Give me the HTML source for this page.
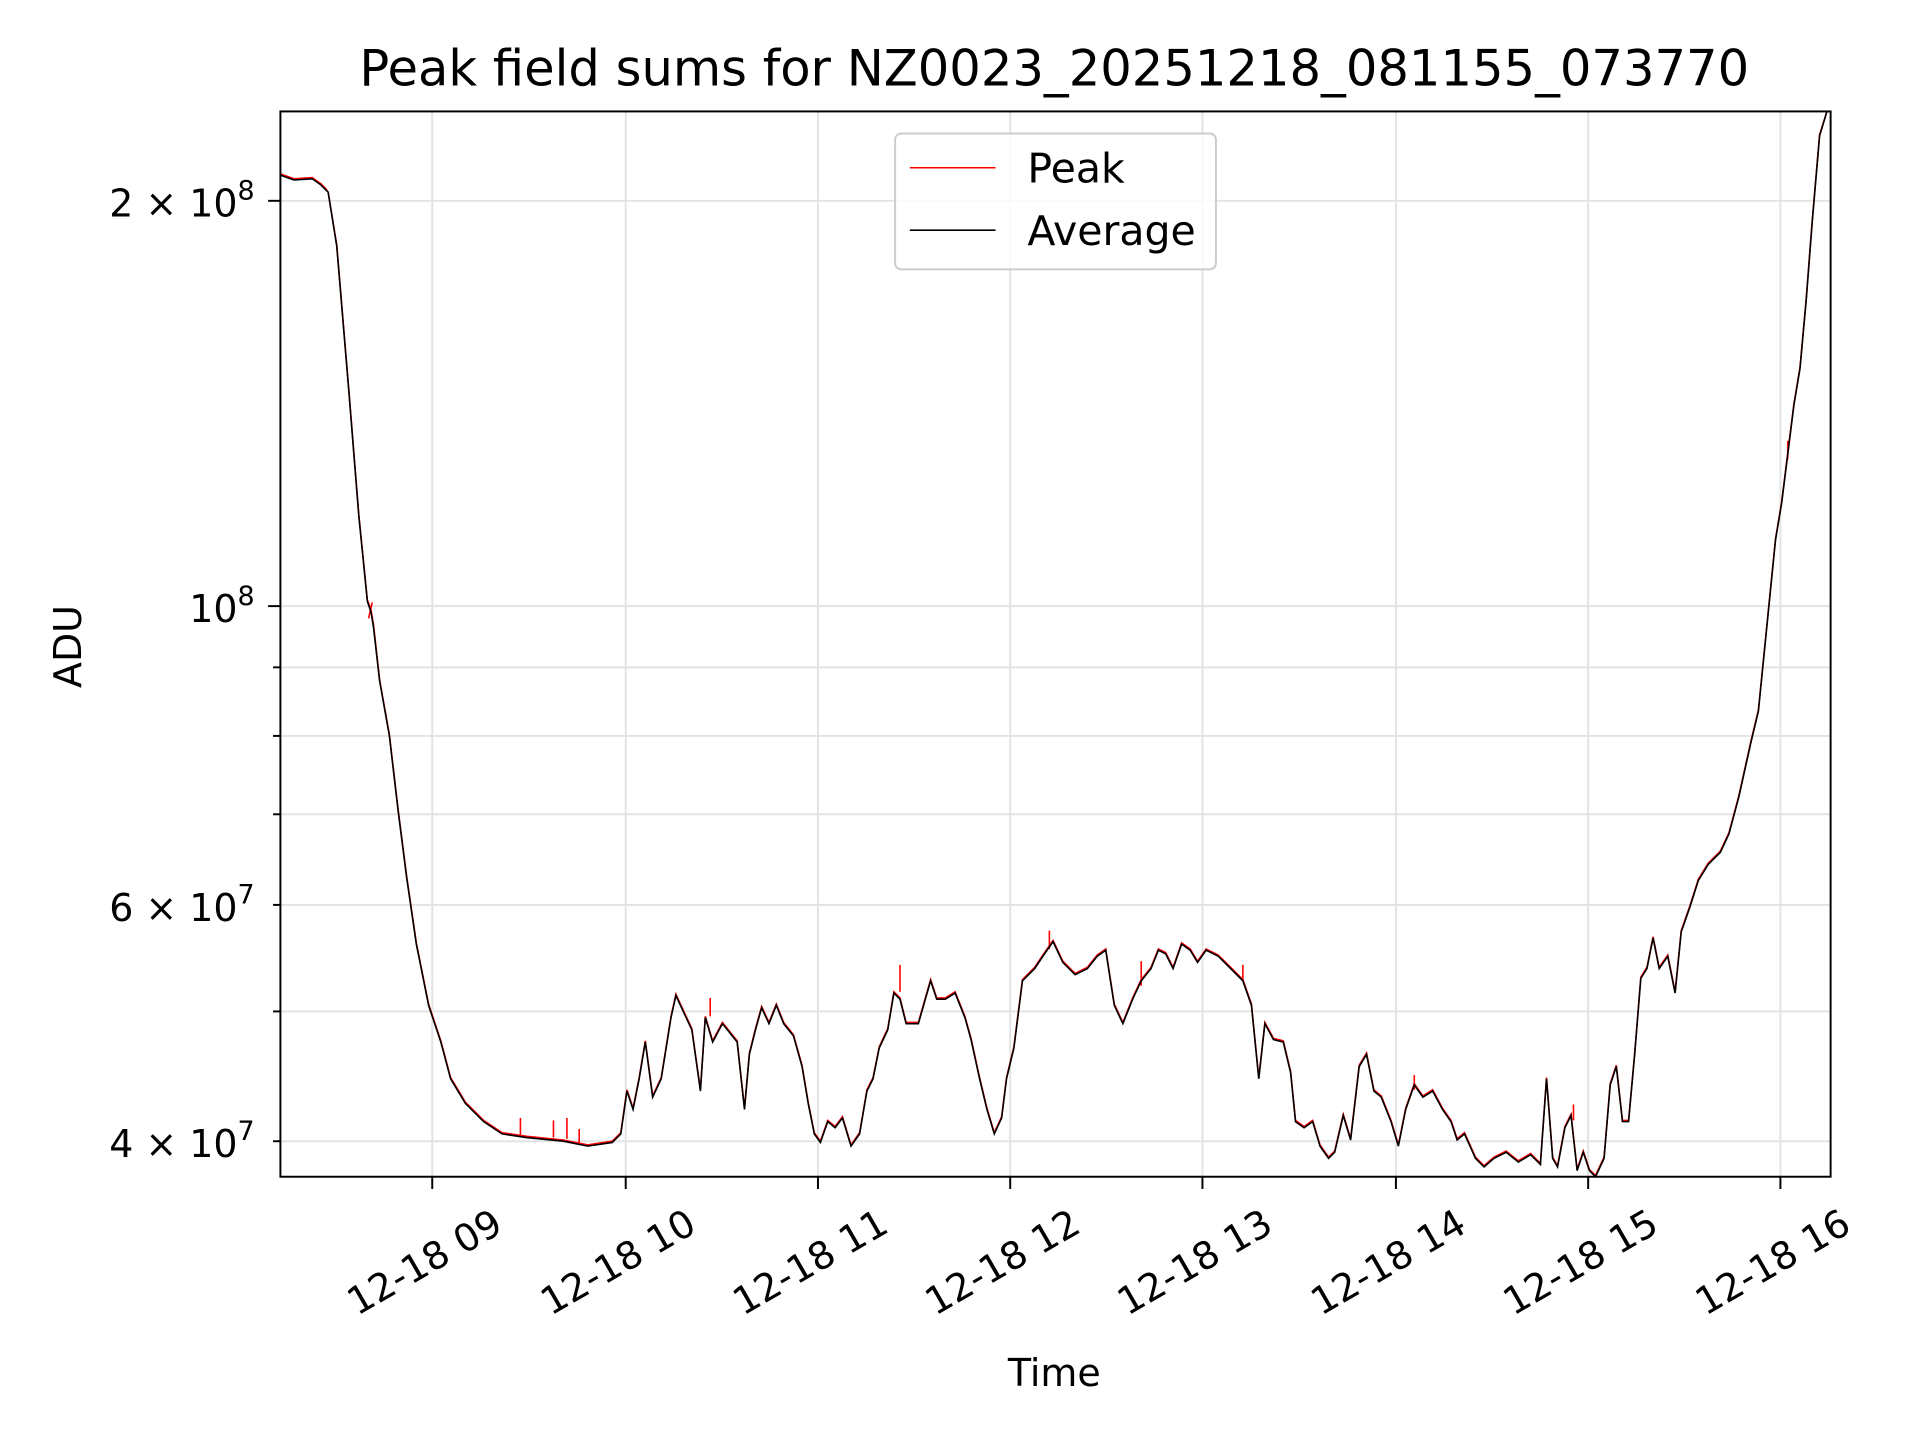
<!DOCTYPE html>
<html><head><meta charset="utf-8"><style>
html,body{margin:0;padding:0;background:#fff;}
svg{display:block;}
text{font-family:"DejaVu Sans","Liberation Sans",sans-serif;fill:#000;}
</style></head><body>
<svg width="1920" height="1440" viewBox="0 0 1568 1176" xmlns="http://www.w3.org/2000/svg">
<rect width="1568" height="1176" fill="#fff"/>
<g stroke="#e3e3e3" stroke-width="1.6">
<line x1="353" y1="91" x2="353" y2="961"/>
<line x1="511" y1="91" x2="511" y2="961"/>
<line x1="668" y1="91" x2="668" y2="961"/>
<line x1="825" y1="91" x2="825" y2="961"/>
<line x1="982" y1="91" x2="982" y2="961"/>
<line x1="1140" y1="91" x2="1140" y2="961"/>
<line x1="1297" y1="91" x2="1297" y2="961"/>
<line x1="1454" y1="91" x2="1454" y2="961"/>
<line x1="229" y1="164" x2="1495" y2="164"/>
<line x1="229" y1="495" x2="1495" y2="495"/>
<line x1="229" y1="545" x2="1495" y2="545"/>
<line x1="229" y1="601" x2="1495" y2="601"/>
<line x1="229" y1="665" x2="1495" y2="665"/>
<line x1="229" y1="739" x2="1495" y2="739"/>
<line x1="229" y1="826" x2="1495" y2="826"/>
<line x1="229" y1="932" x2="1495" y2="932"/>
</g>
<g stroke="#f00" stroke-width="1.3">
<line x1="425" y1="927" x2="425" y2="913"/>
<line x1="452" y1="929" x2="452" y2="915"/>
<line x1="463" y1="930" x2="463" y2="913"/>
<line x1="473" y1="934" x2="473" y2="922"/>
<line x1="580" y1="830" x2="580" y2="815"/>
<line x1="735" y1="810" x2="735" y2="788"/>
<line x1="857" y1="775" x2="857" y2="760"/>
<line x1="932" y1="805" x2="932" y2="785"/>
<line x1="1015" y1="800" x2="1015" y2="788"/>
<line x1="1155" y1="890" x2="1155" y2="878"/>
<line x1="1285" y1="915" x2="1285" y2="902"/>
<line x1="1460" y1="375" x2="1460" y2="360"/>
<line x1="301" y1="505" x2="304" y2="492"/>
</g>
<polyline fill="none" stroke="#f00" stroke-width="1.3" points="229,142 240,146 255,145 262,150 266,154 268,157 275,200 285,320 293,420 300,490 303,498 305,510 310,555 318,600 325,660 332,715 340,770 350,820 360,850 368,880 380,900 395,915 410,925 430,928 460,931 480,935 500,932 507,925 512,890 517,905 522,880 527,850 533,895 540,880 548,830 552,812 558,825 565,840 572,890 576,830 582,850 590,835 598,845 602,850 608,905 612,860 617,840 622,822 628,835 634,820 640,835 648,845 655,870 660,900 665,925 670,932 676,915 682,920 688,912 695,935 702,925 708,890 713,880 718,855 725,840 730,810 735,815 740,835 750,835 760,800 765,815 772,815 780,810 788,830 793,848 800,880 806,905 812,925 818,912 822,880 828,855 835,800 845,790 853,778 860,768 868,785 878,795 888,790 896,780 903,775 910,820 917,835 925,815 932,800 940,790 946,775 952,778 958,790 965,770 972,775 978,785 985,775 995,780 1005,790 1015,800 1022,820 1028,880 1033,835 1040,848 1048,850 1054,875 1058,915 1065,920 1072,915 1078,935 1085,945 1090,940 1097,910 1103,930 1110,870 1116,860 1122,890 1128,895 1136,915 1142,935 1148,905 1155,885 1162,895 1170,890 1178,905 1185,915 1190,930 1196,925 1205,945 1212,952 1220,945 1230,940 1240,948 1250,942 1258,950 1263,880 1268,945 1272,952 1278,920 1283,910 1288,955 1293,940 1298,955 1303,960 1310,945 1315,885 1320,870 1325,915 1330,915 1335,860 1340,798 1345,790 1350,765 1355,790 1362,780 1368,810 1373,760 1380,740 1387,718 1395,705 1405,695 1412,680 1420,650 1430,605 1436,580 1440,540 1445,490 1450,440 1455,410 1460,370 1465,330 1470,300 1475,245 1480,180 1486,110 1492,91"/>
<polyline fill="none" stroke="#000" stroke-width="1.3" points="229,143 240,147 255,146 262,151 266,155 268,157 275,201 285,321 293,421 300,491 303,500 305,512 310,556 318,601 325,661 332,716 340,771 350,821 360,851 368,881 380,901 395,916 410,926 430,929 460,932 480,936 500,933 507,926 512,891 517,906 522,881 527,851 533,896 540,881 548,831 552,813 558,826 565,841 572,891 576,831 582,851 590,836 598,846 602,851 608,906 612,861 617,841 622,823 628,836 634,821 640,836 648,846 655,871 660,901 665,926 670,933 676,916 682,921 688,913 695,936 702,926 708,891 713,881 718,856 725,841 730,811 735,816 740,836 750,836 760,801 765,816 772,816 780,811 788,831 793,849 800,881 806,906 812,926 818,913 822,881 828,856 835,801 845,791 853,779 860,769 868,786 878,796 888,791 896,781 903,776 910,821 917,836 925,816 932,801 940,791 946,776 952,779 958,791 965,771 972,776 978,786 985,776 995,781 1005,791 1015,801 1022,821 1028,881 1033,836 1040,849 1048,851 1054,876 1058,916 1065,921 1072,916 1078,936 1085,946 1090,941 1097,911 1103,931 1110,871 1116,861 1122,891 1128,896 1136,916 1142,936 1148,906 1155,886 1162,896 1170,891 1178,906 1185,916 1190,931 1196,926 1205,946 1212,953 1220,946 1230,941 1240,949 1250,943 1258,951 1263,881 1268,946 1272,953 1278,921 1283,911 1288,956 1293,941 1298,956 1303,961 1310,946 1315,886 1320,871 1325,916 1330,916 1335,861 1340,799 1345,791 1350,766 1355,791 1362,781 1368,811 1373,761 1380,741 1387,719 1395,706 1405,696 1412,681 1420,651 1430,606 1436,581 1440,541 1445,491 1450,441 1455,411 1460,371 1465,331 1470,301 1475,246 1480,181 1486,111 1492,91"/>
<rect x="229" y="91" width="1266" height="870" fill="none" stroke="#000" stroke-width="1.6"/>
<g stroke="#000" stroke-width="1.6">
<line x1="353" y1="961" x2="353" y2="971"/>
<line x1="511" y1="961" x2="511" y2="971"/>
<line x1="668" y1="961" x2="668" y2="971"/>
<line x1="825" y1="961" x2="825" y2="971"/>
<line x1="982" y1="961" x2="982" y2="971"/>
<line x1="1140" y1="961" x2="1140" y2="971"/>
<line x1="1297" y1="961" x2="1297" y2="971"/>
<line x1="1454" y1="961" x2="1454" y2="971"/>
<line x1="219" y1="164" x2="229" y2="164"/>
<line x1="219" y1="495" x2="229" y2="495"/>
<line x1="223" y1="545" x2="229" y2="545"/>
<line x1="223" y1="601" x2="229" y2="601"/>
<line x1="223" y1="665" x2="229" y2="665"/>
<line x1="223" y1="739" x2="229" y2="739"/>
<line x1="223" y1="826" x2="229" y2="826"/>
<line x1="223" y1="932" x2="229" y2="932"/>
</g>
<g font-size="31" text-anchor="end">
<text x="208" y="177">2 × 10<tspan font-size="22" dy="-14">8</tspan></text>
<text x="208" y="508">10<tspan font-size="22" dy="-14">8</tspan></text>
<text x="208" y="752">6 × 10<tspan font-size="22" dy="-14">7</tspan></text>
<text x="208" y="945">4 × 10<tspan font-size="22" dy="-14">7</tspan></text>
</g>
<g font-size="31" text-anchor="middle">
<text transform="translate(352,1040) rotate(-30)">12-18 09</text>
<text transform="translate(510,1040) rotate(-30)">12-18 10</text>
<text transform="translate(667,1040) rotate(-30)">12-18 11</text>
<text transform="translate(824,1040) rotate(-30)">12-18 12</text>
<text transform="translate(981,1040) rotate(-30)">12-18 13</text>
<text transform="translate(1139,1040) rotate(-30)">12-18 14</text>
<text transform="translate(1296,1040) rotate(-30)">12-18 15</text>
<text transform="translate(1453,1040) rotate(-30)">12-18 16</text>
</g>
<text x="861" y="1132" font-size="31" text-anchor="middle">Time</text>
<text transform="translate(66,528) rotate(-90)" font-size="31" text-anchor="middle">ADU</text>
<text x="861" y="70" font-size="40.5" text-anchor="middle">Peak field sums for NZ0023_20251218_081155_073770</text>
<rect x="731" y="109" width="262" height="111" rx="5" fill="#fff" fill-opacity="0.8" stroke="#ccc" stroke-width="1.6"/>
<line x1="743" y1="137" x2="813" y2="137" stroke="#f00" stroke-width="1.3"/>
<line x1="743" y1="188" x2="813" y2="188" stroke="#000" stroke-width="1.3"/>
<text x="839" y="149" font-size="33.5">Peak</text>
<text x="839" y="200" font-size="33.5">Average</text>
</svg>
</body></html>
